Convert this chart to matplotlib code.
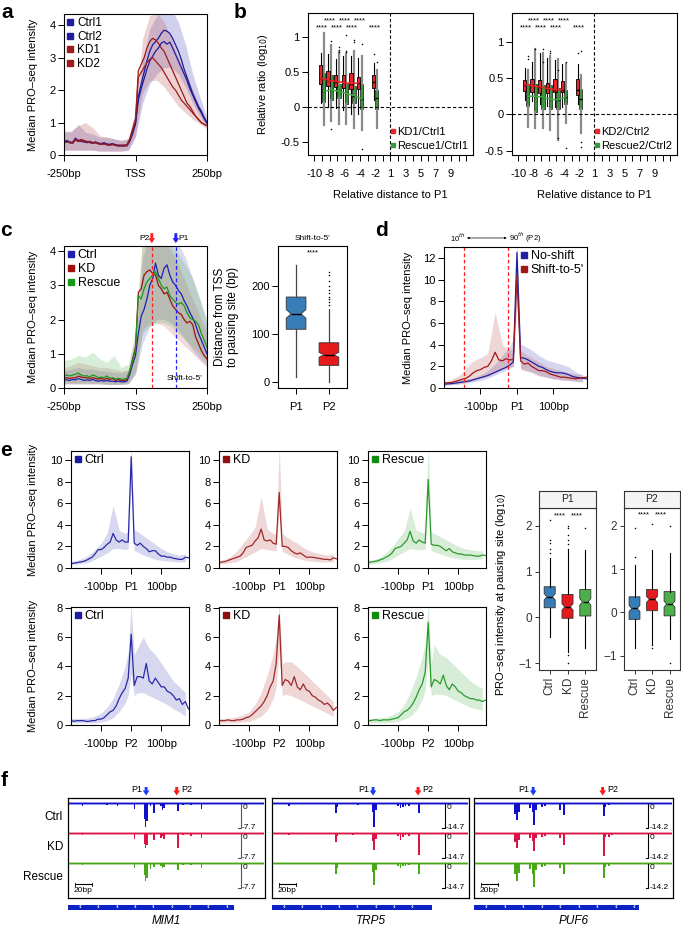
import numpy as np
import matplotlib
matplotlib.use('Agg')
import matplotlib.pyplot as plt
from matplotlib.lines import Line2D

plt.rcParams['font.family'] = ['Liberation Sans', 'DejaVu Sans']
plt.rcParams['axes.linewidth'] = 0.8

# ---------------- data ----------------
# a / c : median PRO-seq around TSS, 10bp bins; bands on a coarser grid
XA = np.arange(-250, 251, 10)
XAB = [-250, -225, -200, -175, -150, -125, -100, -75, -50, -25, 0, 25, 50, 75, 100, 125, 150, 175, 200, 225, 250]

a_ctrl1 = [0.42, 0.45, 0.40, 0.38, 0.52, 0.44, 0.45, 0.42, 0.40, 0.42, 0.38, 0.40, 0.37, 0.35, 0.38, 0.34, 0.33, 0.35, 0.32, 0.30,
	0.30, 0.30, 0.30, 0.45, 0.70, 1.00, 1.80, 2.20, 2.55, 2.90, 3.20, 3.40, 3.50, 3.60, 3.75, 3.85, 3.82, 3.75, 3.60, 3.40,
	3.20, 2.95, 2.65, 2.40, 2.15, 1.90, 1.70, 1.50, 1.35, 1.15, 1.00]
a_ctrl2 = [0.40, 0.42, 0.38, 0.36, 0.48, 0.42, 0.42, 0.40, 0.38, 0.40, 0.36, 0.38, 0.35, 0.33, 0.35, 0.32, 0.31, 0.33, 0.30, 0.28,
	0.28, 0.28, 0.28, 0.42, 0.65, 0.95, 1.70, 2.05, 2.35, 2.65, 2.90, 3.05, 3.20, 3.30, 3.45, 3.50, 3.42, 3.48, 3.30, 3.10,
	2.90, 2.70, 2.50, 2.30, 2.05, 1.85, 1.65, 1.45, 1.30, 1.12, 0.98]
a_kd1 = [0.40, 0.42, 0.40, 0.38, 0.50, 0.45, 0.48, 0.45, 0.42, 0.40, 0.38, 0.40, 0.36, 0.35, 0.36, 0.33, 0.32, 0.34, 0.30, 0.30,
	0.30, 0.30, 0.32, 0.50, 0.80, 1.10, 2.60, 2.80, 3.00, 3.30, 3.50, 3.60, 3.55, 3.45, 3.30, 3.20, 3.00, 2.80, 2.60, 2.40,
	2.20, 2.00, 1.80, 1.60, 1.50, 1.35, 1.20, 1.10, 1.00, 0.95, 0.90]
a_kd2 = [0.38, 0.40, 0.38, 0.36, 0.46, 0.42, 0.44, 0.42, 0.40, 0.38, 0.36, 0.38, 0.34, 0.33, 0.34, 0.31, 0.30, 0.32, 0.29, 0.28,
	0.28, 0.28, 0.30, 0.48, 0.75, 1.05, 2.40, 2.55, 2.70, 2.85, 2.95, 3.00, 2.90, 2.80, 2.70, 2.55, 2.40, 2.25, 2.10, 2.00,
	1.85, 1.70, 1.60, 1.50, 1.40, 1.30, 1.20, 1.10, 1.00, 0.95, 0.90]
a_ctrl_lo = [0.15, 0.15, 0.15, 0.15, 0.15, 0.12, 0.12, 0.12, 0.12, 0.15, 0.55, 1.60, 2.20, 2.50, 2.70, 2.70, 2.50, 2.10, 1.60, 1.20, 0.85]
a_ctrl_hi = [0.75, 0.70, 0.95, 0.70, 0.65, 0.55, 0.55, 0.50, 0.45, 0.50, 1.30, 2.90, 3.90, 4.30, 4.50, 4.50, 4.10, 3.40, 2.50, 1.80, 1.15]
a_kd_lo = [0.15, 0.15, 0.15, 0.15, 0.15, 0.12, 0.12, 0.12, 0.12, 0.15, 0.60, 1.90, 2.30, 2.30, 2.10, 1.80, 1.50, 1.30, 1.10, 0.95, 0.80]
a_kd_hi = [0.70, 0.75, 0.90, 1.00, 0.85, 0.60, 0.55, 0.50, 0.45, 0.50, 1.40, 3.60, 4.30, 4.40, 4.10, 3.60, 3.00, 2.50, 2.00, 1.50, 1.10]

c_ctrl = [0.22, 0.24, 0.22, 0.25, 0.24, 0.28, 0.25, 0.22, 0.24, 0.22, 0.25, 0.22, 0.20, 0.22, 0.20, 0.22, 0.20, 0.20, 0.18, 0.20,
	0.18, 0.18, 0.20, 0.40, 0.70, 0.95, 1.60, 2.10, 2.30, 2.60, 3.00, 3.20, 3.65, 3.30, 3.20, 3.50, 3.60, 3.30, 3.10, 3.00,
	2.85, 2.75, 2.55, 2.40, 2.20, 2.05, 1.85, 1.60, 1.40, 1.20, 1.00]
c_kd = [0.28, 0.30, 0.28, 0.30, 0.30, 0.35, 0.32, 0.30, 0.30, 0.28, 0.30, 0.28, 0.26, 0.28, 0.25, 0.28, 0.25, 0.28, 0.22, 0.25,
	0.22, 0.22, 0.25, 0.50, 0.85, 1.20, 2.80, 2.90, 3.30, 3.40, 3.45, 3.35, 3.30, 3.00, 2.90, 2.75, 2.80, 2.60, 2.40, 2.30,
	2.20, 2.15, 2.00, 1.90, 1.95, 1.85, 1.50, 1.30, 1.10, 0.95, 0.85]
c_res = [0.35, 0.38, 0.35, 0.38, 0.40, 0.44, 0.38, 0.35, 0.36, 0.32, 0.38, 0.35, 0.30, 0.32, 0.30, 0.35, 0.28, 0.30, 0.26, 0.28,
	0.26, 0.26, 0.28, 0.50, 0.80, 1.15, 2.70, 2.60, 2.90, 3.10, 3.20, 3.30, 3.40, 3.20, 3.00, 2.90, 2.95, 2.70, 2.60, 2.50,
	2.45, 2.50, 2.40, 2.20, 2.05, 2.00, 1.95, 1.85, 1.60, 1.40, 1.20]
c_ctrl_lo = [0.12, 0.12, 0.12, 0.12, 0.12, 0.12, 0.10, 0.10, 0.10, 0.12, 0.40, 1.30, 1.80, 2.00, 2.00, 1.90, 1.70, 1.40, 1.10, 0.85, 0.65]
c_ctrl_hi = [0.50, 0.55, 0.60, 0.55, 0.55, 0.50, 0.50, 0.45, 0.45, 0.50, 1.30, 3.80, 4.50, 4.60, 4.60, 4.50, 4.20, 3.80, 3.20, 2.60, 1.90]
c_kd_lo = [0.12, 0.12, 0.12, 0.12, 0.12, 0.12, 0.10, 0.10, 0.10, 0.12, 0.45, 1.70, 1.90, 1.90, 1.80, 1.60, 1.40, 1.20, 1.00, 0.80, 0.60]
c_kd_hi = [0.60, 0.65, 0.75, 0.70, 0.65, 0.60, 0.60, 0.55, 0.50, 0.55, 1.60, 4.40, 4.60, 4.50, 4.30, 4.00, 3.60, 3.10, 2.60, 2.10, 1.60]
c_res_lo = [0.15, 0.15, 0.15, 0.15, 0.15, 0.15, 0.12, 0.12, 0.12, 0.15, 0.45, 1.60, 1.80, 1.90, 1.90, 1.80, 1.60, 1.40, 1.20, 1.00, 0.75]
c_res_hi = [0.80, 0.85, 0.95, 0.90, 1.05, 0.85, 0.75, 0.95, 0.60, 0.70, 1.60, 4.40, 4.60, 4.60, 4.40, 4.20, 3.90, 3.60, 3.20, 2.60, 2.00]
c_p2, c_p1 = 57, 141

# c right: distance TSS -> pausing site (q1, med, q3, whislo, whishi), notch ci
c_box = [(110, 142, 177, 10, 243), (35, 57, 82, 0, 152)]
c_box_ci = [(133, 151), (52, 62)]
c_box_fl = [[], [160, 166, 172, 178, 185, 192, 200, 210, 222, 230]]

# b: relative ratio boxes, (q1, med, q3, whislo, whishi)
B_POS = [1, 2, 3, 4, 5, 6, 8]
B_TICKS = ['-10', '-9', '-8', '-7', '-6', '-5', '-4', '-3', '-2', '-1', '1', '2', '3', '4', '5', '6', '7', '8', '9', '10', '11']
b1_kd = [(.32, .41, .60, .05, .77), (.30, .38, .51, .00, .75), (.28, .36, .45, -.02, .68), (.27, .35, .45, -.05, .72),
	(.26, .33, .48, -.10, .72), (.26, .34, .42, -.10, .70), (.27, .35, .45, .10, .63)]
b1_res = [(.07, .22, .48, -.26, 1.05), (.10, .24, .45, -.20, .88), (.12, .22, .33, -.25, .78), (.04, .19, .33, -.25, .75),
	(.05, .16, .30, -.30, .80), (-.03, .11, .32, -.33, .72), (-.03, .13, .24, -.30, .52)]
b1_kd_fl = [[], [], [], [], [], [], [.76]]
b1_res_fl = [[], [.94, -.32], [.78, .81, .85], [1.02, .78, .80], [.92, .95], [.90, -.61], [.64]]
b2_kd = [(.33, .41, .48, .20, .64), (.31, .40, .49, .18, .73), (.30, .38, .47, .15, .85), (.29, .36, .44, .12, .78),
	(.31, .34, .49, .10, .75), (.31, .34, .46, .10, .70), (.27, .34, .49, .15, .70)]
b2_res = [(.11, .25, .42, -.17, .62), (.04, .25, .42, -.19, .90), (.08, .24, .41, -.19, .85), (.07, .21, .41, -.22, .80),
	(.08, .20, .36, -.35, .76), (.15, .24, .34, -.12, .70), (.07, .21, .35, -.26, .55)]
b2_kd_fl = [[], [], [], [], [], [], [.85]]
b2_res_fl = [[.80, .76], [.90], [.90, .72], [.85, .88], [.62, -.33], [.72, -.47], [.87, -.38, -.45]]
b_stars_lo = [1, 3, 5, 8]
b_stars_hi = [2, 4, 6]

# d / e : profiles around pausing site, 10bp bins
XD = np.arange(-200, 191, 10)
XDB = [-200, -180, -160, -140, -120, -100, -80, -60, -40, -20, -10, 0, 10, 20, 40, 60, 80, 100, 120, 140, 160, 180]

d_noshift = [0.35, 0.38, 0.40, 0.45, 0.50, 0.55, 0.60, 0.65, 0.75, 0.85, 0.95, 1.05, 1.15, 1.30, 1.45, 1.60, 1.75, 1.90, 2.10, 2.40,
	12.5, 2.80, 2.75, 2.60, 2.40, 2.20, 2.00, 1.90, 1.70, 1.55, 1.45, 1.40, 1.40, 1.35, 1.25, 1.10, 1.00, 0.95, 0.90, 0.85]
d_shift = [0.45, 0.48, 0.50, 0.60, 0.70, 0.80, 0.90, 1.10, 1.40, 1.60, 1.70, 1.90, 2.00, 2.50, 3.30, 2.60, 2.50, 2.70, 2.60, 2.60,
	10.4, 2.50, 2.20, 2.30, 2.00, 1.80, 1.60, 1.60, 1.50, 1.30, 1.20, 1.10, 1.00, 1.00, 0.95, 0.90, 0.85, 0.90, 0.95, 1.00]
d_ns_lo = [0.25, 0.30, 0.35, 0.45, 0.55, 0.70, 0.90, 1.20, 1.50, 1.80, 2.00, 9.0, 1.80, 1.70, 1.50, 1.20, 1.00, 0.85, 0.75, 0.70, 0.60, 0.55]
d_ns_hi = [0.50, 0.60, 0.70, 0.80, 0.95, 1.20, 1.60, 2.20, 3.00, 3.80, 4.50, 13.5, 4.00, 3.90, 3.50, 3.00, 2.60, 2.40, 2.20, 2.00, 1.50, 1.20]
d_sh_lo = [0.30, 0.35, 0.40, 0.50, 0.70, 0.90, 1.10, 1.40, 1.80, 1.90, 2.00, 8.0, 1.70, 1.60, 1.40, 1.10, 1.00, 0.85, 0.75, 0.70, 0.65, 0.60]
d_sh_hi = [0.60, 0.80, 1.10, 1.80, 2.50, 2.80, 3.20, 7.00, 4.00, 3.50, 3.60, 12.5, 3.50, 3.20, 2.80, 2.40, 2.00, 1.80, 1.60, 1.40, 1.30, 1.20]
d_p10, d_p90 = -145, -25

e1_ctrl = [0.40, 0.45, 0.50, 0.55, 0.60, 0.70, 0.85, 1.00, 1.30, 1.70, 1.70, 1.90, 2.20, 2.40, 3.20, 2.60, 2.40, 2.60, 2.40, 2.40,
	10.3, 2.30, 2.10, 2.30, 2.00, 1.80, 1.50, 1.60, 1.60, 1.30, 1.10, 1.10, 1.00, 1.00, 0.90, 0.85, 0.80, 0.80, 1.00, 0.95]
e1_kd = [0.50, 0.55, 0.60, 0.70, 0.80, 0.90, 1.00, 1.10, 1.40, 1.90, 2.00, 2.10, 2.50, 2.80, 3.60, 2.60, 2.50, 2.60, 2.30, 2.20,
	7.00, 2.00, 2.00, 1.90, 1.60, 1.40, 1.30, 1.40, 1.20, 1.00, 1.00, 1.00, 0.95, 0.90, 0.85, 0.80, 0.80, 0.75, 0.95, 0.85]
e1_res = [0.50, 0.55, 0.60, 0.65, 0.75, 0.85, 1.00, 1.15, 1.40, 1.80, 1.90, 2.00, 2.30, 2.60, 3.40, 2.50, 2.30, 2.60, 2.40, 2.30,
	8.20, 2.20, 2.10, 2.10, 2.00, 1.80, 1.60, 1.80, 1.50, 1.40, 1.30, 1.30, 1.20, 1.20, 1.20, 1.15, 1.10, 1.10, 1.20, 1.15]
e1_ctrl_lo = [0.30, 0.35, 0.45, 0.55, 0.80, 1.10, 1.40, 1.80, 1.80, 1.70, 1.80, 8.0, 1.60, 1.50, 1.20, 1.00, 0.80, 0.70, 0.65, 0.60, 0.55, 0.60]
e1_ctrl_hi = [0.60, 0.70, 0.90, 1.20, 1.70, 2.30, 3.20, 5.80, 3.50, 3.20, 3.40, 11.5, 3.50, 3.40, 3.00, 2.60, 2.20, 1.80, 1.50, 1.30, 1.20, 1.30]
e1_kd_lo = [0.35, 0.40, 0.50, 0.60, 0.90, 1.20, 1.50, 1.80, 1.70, 1.60, 1.60, 5.5, 1.50, 1.40, 1.10, 0.90, 0.75, 0.65, 0.60, 0.55, 0.55, 0.55]
e1_kd_hi = [0.70, 0.80, 1.10, 1.60, 2.30, 3.00, 3.80, 6.60, 3.60, 3.20, 3.20, 11.5, 3.20, 3.00, 2.60, 2.30, 1.90, 1.60, 1.40, 1.30, 1.20, 1.30]
e1_res_lo = [0.35, 0.40, 0.50, 0.60, 0.85, 1.20, 1.50, 1.80, 1.70, 1.70, 1.70, 6.5, 1.60, 1.50, 1.30, 1.10, 0.95, 0.85, 0.80, 0.80, 0.80, 0.85]
e1_res_hi = [0.70, 0.80, 1.00, 1.40, 2.00, 2.70, 3.40, 5.50, 3.50, 3.30, 3.30, 11.5, 3.30, 3.20, 2.90, 2.60, 2.30, 2.00, 1.80, 1.70, 1.60, 1.60]

e2_ctrl = [0.30, 0.25, 0.30, 0.30, 0.30, 0.25, 0.25, 0.30, 0.30, 0.40, 0.40, 0.50, 0.70, 0.90, 1.00, 1.30, 1.80, 2.20, 2.50, 3.20,
	6.20, 2.70, 3.30, 3.30, 3.20, 4.20, 3.00, 2.80, 3.20, 2.90, 2.60, 2.60, 2.30, 2.20, 2.00, 1.70, 1.80, 1.40, 1.60, 1.10]
e2_kd = [0.30, 0.30, 0.30, 0.35, 0.30, 0.30, 0.35, 0.35, 0.40, 0.50, 0.55, 0.70, 0.90, 1.10, 1.30, 1.60, 2.00, 2.60, 3.00, 4.20,
	7.50, 2.70, 3.10, 3.00, 2.70, 3.30, 2.60, 2.40, 2.80, 2.40, 2.30, 2.00, 1.90, 1.70, 1.60, 1.40, 1.50, 1.30, 1.00, 1.20]
e2_res = [0.30, 0.30, 0.35, 0.35, 0.30, 0.35, 0.35, 0.35, 0.40, 0.45, 0.50, 0.70, 0.90, 1.00, 1.20, 1.50, 1.90, 2.40, 2.80, 3.60,
	7.00, 2.60, 3.10, 3.00, 2.80, 3.40, 2.70, 2.40, 2.80, 2.60, 2.30, 2.20, 2.00, 1.90, 1.80, 1.80, 1.70, 1.70, 1.60, 1.70]
e2_ctrl_lo = [0.15, 0.15, 0.15, 0.15, 0.15, 0.20, 0.30, 0.50, 0.90, 1.50, 2.00, 3.5, 2.00, 2.20, 2.20, 2.00, 1.80, 1.60, 1.40, 1.10, 0.90, 0.60]
e2_ctrl_hi = [0.45, 0.45, 0.45, 0.50, 0.60, 0.80, 1.20, 1.80, 2.80, 4.00, 5.00, 8.2, 4.80, 5.20, 6.00, 5.20, 4.80, 4.20, 3.60, 3.00, 2.60, 2.20]
e2_kd_lo = [0.15, 0.15, 0.15, 0.15, 0.20, 0.25, 0.40, 0.60, 1.00, 1.80, 2.60, 5.0, 2.00, 2.10, 2.00, 1.80, 1.60, 1.40, 1.20, 1.00, 0.80, 0.60]
e2_kd_hi = [0.45, 0.45, 0.50, 0.55, 0.70, 0.90, 1.40, 2.20, 3.40, 4.80, 6.00, 8.3, 4.20, 4.30, 4.30, 4.00, 3.60, 3.20, 2.80, 2.40, 2.00, 1.60]
e2_res_lo = [0.15, 0.15, 0.15, 0.15, 0.20, 0.25, 0.40, 0.60, 1.00, 1.70, 2.40, 4.5, 2.00, 2.10, 2.10, 2.00, 1.80, 1.60, 1.40, 1.20, 1.10, 1.00]
e2_res_hi = [0.45, 0.45, 0.50, 0.55, 0.70, 0.90, 1.40, 2.20, 3.30, 4.60, 5.60, 8.3, 4.20, 5.50, 4.80, 4.60, 4.20, 3.80, 3.40, 3.00, 2.70, 2.50]

# e right: log10 intensity at pausing site
E_GROUPS = ['Ctrl', 'KD', 'Rescue']
e_p1 = [(.21, .45, .67, -.42, 1.29), (-.02, .23, .50, -.75, 1.50), (.03, .34, .61, -.68, 1.47)]
e_p1_ci = [(.38, .52), (.16, .30), (.27, .41)]
e_p1_fl = [[1.40, 1.50, 1.62, 1.70, 2.13], [1.60, 1.70, 1.80, 1.95, 2.00, -0.82, -1.0], [1.96]]
e_p2 = [(-.16, .09, .36, -.83, 1.10), (.04, .30, .53, -.75, 1.44), (-.08, .19, .48, -.62, 1.36)]
e_p2_ci = [(.02, .16), (.23, .37), (.12, .26)]
e_p2_fl = [[1.28, 1.95], [2.04, -0.83], [2.00, -1.16]]

# f: browser tracks (bp position in window, signal depth)
F_GENES = ['MIM1', 'TRP5', 'PUF6']
F_SCALE = [7.7, 14.7, 14.2]
F_P1 = [92, 119, 69]
F_P2 = [128, 172, 150]
F_GENE_LEN = [196, 189, 192]
F_CONDS = ['Ctrl', 'KD', 'Rescue']
f_pos = [
	[10, 16, 23, 34, 45, 57, 77, 89, 90, 92, 96, 100, 108, 110, 112, 128, 134, 144, 156, 163, 171, 175],
	[8, 19, 45, 74, 76, 88, 94, 100, 118, 119, 121, 147, 150, 153, 156, 160, 172, 175],
	[3, 20, 47, 49, 51, 64, 67, 69, 71, 78, 82, 99, 104, 113, 150, 152, 156, 160],
]
f_sig = [
	[[0.3, 0.8, 0.3, 0.1, 0.6, 0.8, 2.0, 5.0, 7.5, 5.5, 0.8, 3.0, 1.0, 2.2, 1.5, 2.5, 0.5, 0.6, 2.0, 0.3, 0.3, 0.3],
	 [0.1, 0.5, 0.4, 0.3, 0.3, 0.2, 1.7, 3.3, 4.5, 3.8, 0.5, 2.2, 1.5, 1.0, 1.7, 4.5, 0.6, 1.0, 1.5, 0.2, 0.3, 0.3],
	 [0.1, 0.6, 0.2, 0.1, 0.2, 0.3, 1.5, 3.6, 5.5, 4.5, 1.7, 1.3, 0.8, 1.5, 1.2, 2.3, 0.5, 0.5, 1.5, 0.2, 0.2, 0.3]],
	[[0.3, 2.0, 0.3, 6.0, 2.5, 0.8, 0.5, 1.0, 5.0, 14.2, 4.0, 2.0, 3.0, 2.5, 1.5, 2.0, 6.0, 0.5],
	 [0.3, 1.2, 0.3, 5.3, 2.0, 0.5, 1.0, 0.6, 4.5, 9.8, 3.5, 1.5, 4.0, 2.5, 1.0, 2.0, 13.0, 0.8],
	 [0.2, 0.8, 0.2, 6.3, 3.0, 0.4, 0.5, 0.5, 5.0, 13.0, 4.0, 2.0, 3.0, 2.0, 1.5, 1.0, 6.3, 0.5]],
	[[0.5, 0.3, 6.0, 9.5, 5.0, 3.0, 5.0, 12.3, 4.0, 2.0, 1.5, 3.8, 6.6, 0.8, 7.6, 2.0, 1.0, 0.8],
	 [0.5, 0.3, 5.0, 8.5, 4.0, 3.0, 4.5, 10.2, 3.0, 2.5, 1.5, 3.0, 6.6, 0.5, 13.0, 2.5, 2.0, 1.0],
	 [0.8, 0.3, 6.5, 10.0, 5.5, 3.5, 6.0, 13.5, 4.0, 2.0, 1.5, 3.0, 6.0, 0.5, 8.5, 2.5, 1.5, 0.8]],
]

# ---------------- helpers ----------------
W, H = 681, 927
fig = plt.figure(figsize=(W / 100, H / 100), dpi=100)

BLUE, DRED, GREEN = '#1c1c9c', '#9c1c1c', '#1f8f1f'
S1 = ['#377eb8', '#e41a1c', '#4daf4a']


def px_axes(l, t, r, b):
	return fig.add_axes([l / W, 1 - b / H, (r - l) / W, (b - t) / H])


def r_style(ax):
	ax.tick_params(direction='out', length=4, width=0.7, labelsize=8, colors='k')
	ax.tick_params(axis='x', pad=6)
	ax.tick_params(axis='y', pad=2)


def sq_legend(ax, labels, colors, loc='upper left', fs=8.5, **kw):
	handles = [Line2D([], [], marker='s', ls='', color=c, ms=5) for c in colors]
	return ax.legend(handles, labels, loc=loc, frameon=False, fontsize=fs, handlelength=0.6, handletextpad=0.25,
		labelspacing=0.15, borderaxespad=0.15, borderpad=0.1, **kw)


def profile(ax, x, y, xb, lo, hi, color, fill, alpha=0.3):
	ax.fill_between(xb, lo, hi, color=fill, alpha=alpha, lw=0)
	ax.plot(x, y, color=color, lw=0.9)


def boxes(ax, rows, pos, fliers, faces, edge='k', wcol='k', wlw=0.8, width=0.4, cis=None):
	stats = []
	for i, (q1, med, q3, lo, hi) in enumerate(rows):
		d = dict(q1=q1, med=med, q3=q3, whislo=lo, whishi=hi, fliers=fliers[i])
		if cis:
			d['cilo'], d['cihi'] = cis[i]
		stats.append(d)
	res = ax.bxp(stats, positions=pos, widths=width, shownotches=cis is not None, patch_artist=True, showcaps=False,
		boxprops=dict(edgecolor=edge, lw=0.6), medianprops=dict(color='k', lw=1.0),
		whiskerprops=dict(color=wcol, lw=wlw), flierprops=dict(marker='.', ms=2.2, mfc='k', mec='none'),
		manage_ticks=False)
	for p, fc in zip(res['boxes'], faces):
		p.set_facecolor(fc)
	return res


def panel_label(x, y, s):
	fig.text(x / W, 1 - y / H, s, fontsize=15, fontweight='bold', ha='center', va='center')


YLAB = 'Median PRO\u2013seq intensity'

# ---------------- a ----------------
ax = px_axes(64, 14, 207, 155)
profile(ax, XA, a_ctrl1, XAB, a_ctrl_lo, a_ctrl_hi, BLUE, '#5a5ac0', 0.28)
profile(ax, XA, a_kd1, XAB, a_kd_lo, a_kd_hi, DRED, '#c06060', 0.28)
ax.plot(XA, a_ctrl2, color=BLUE, lw=0.9)
ax.plot(XA, a_kd2, color=DRED, lw=0.9)
ax.set_xlim(-250, 250)
ax.set_ylim(0, 4.35)
ax.set_xticks([-250, 0, 250], ['-250bp', 'TSS', '250bp'])
ax.set_yticks([0, 1, 2, 3, 4])
r_style(ax)
ax.set_ylabel(YLAB, fontsize=8)
ax.yaxis.set_label_coords(-0.18, 0.5)
sq_legend(ax, ['Ctrl1', 'Ctrl2', 'KD1', 'KD2'], [BLUE, BLUE, DRED, DRED])
panel_label(7, 12, 'a')

# ---------------- b ----------------
for k, (l, r, kd, res, kfl, rfl, yl, lab) in enumerate([
		(308, 473, b1_kd, b1_res, b1_kd_fl, b1_res_fl, (-0.69, 1.34), ('KD1/Ctrl1', 'Rescue1/Ctrl1')),
		(512, 677, b2_kd, b2_res, b2_kd_fl, b2_res_fl, (-0.56, 1.40), ('KD2/Ctrl2', 'Rescue2/Ctrl2'))]):
	ax = px_axes(l, 13, r, 155)
	pos = np.array(B_POS)
	boxes(ax, res, pos + 0.22, rfl, ['#3c963c'] * 7, edge='#333333', wcol='#8a8a8a', wlw=1.6, width=0.44)
	boxes(ax, kd, pos - 0.2, kfl, ['#e8262a'] * 7, edge='k', wcol='k', wlw=0.8, width=0.44)
	ax.plot(pos[:6] - 0.2, [m[1] for m in kd[:6]], color='#f02020', lw=1.1, zorder=5)
	ax.plot(pos[:6] + 0.22, [m[1] for m in res[:6]], color='#45b045', lw=1.1, zorder=5)
	ax.axhline(0, color='k', ls=(0, (3, 2)), lw=0.8)
	ax.axvline(10, color='k', ls=(0, (3, 2)), lw=0.8)
	for p in b_stars_lo:
		ax.text(p, yl[1] - 0.21, '****', fontsize=5.5, ha='center', va='center')
	for p in b_stars_hi:
		ax.text(p, yl[1] - 0.11, '****', fontsize=5.5, ha='center', va='center')
	ax.set_xlim(-0.85, 20.9)
	ax.set_ylim(*yl)
	ax.set_xticks(range(len(B_TICKS)))
	ax.set_xticklabels([t if i % 2 == 0 and i < 19 else '' for i, t in enumerate(B_TICKS)])
	ax.set_yticks([-0.5, 0, 0.5, 1])
	ax.set_yticklabels(['-0.5', '0', '0.5', '1'])
	r_style(ax)
	ax.set_xlabel('Relative distance to P1', fontsize=8)
	ax.xaxis.set_label_coords(0.5, -0.25)
	if k == 0:
		ax.set_ylabel('Relative ratio (log$_{10}$)', fontsize=8)
		ax.yaxis.set_label_coords(-0.23, 0.5)
	handles = [Line2D([], [], marker='s', ls='', color=c, ms=3.5) for c in ['#e8262a', '#3c963c']]
	ax.legend(handles, lab, loc='lower right', frameon=False, fontsize=8, handlelength=0.5, handletextpad=0.2,
		labelspacing=0.3, borderaxespad=0.3, borderpad=0.1)
panel_label(240, 12, 'b')

# ---------------- c ----------------
ax = px_axes(64, 246, 207, 388)
profile(ax, XA, c_ctrl, XAB, c_ctrl_lo, c_ctrl_hi, '#2020b0', '#5a5ac0', 0.22)
profile(ax, XA, c_kd, XAB, c_kd_lo, c_kd_hi, '#a01010', '#c06060', 0.22)
profile(ax, XA, c_res, XAB, c_res_lo, c_res_hi, '#1a9a1a', '#50b050', 0.22)
ax.axvline(c_p2, color='#ff2020', ls=(0, (3, 2)), lw=0.9)
ax.axvline(c_p1, color='#2020ff', ls=(0, (3, 2)), lw=0.9)
for p, s, c, side in [(c_p2, 'P2', '#ff2020', -1), (c_p1, 'P1', '#2020ff', 1)]:
	ax.annotate('', xy=(p, 1.02), xytext=(p, 1.09), xycoords=('data', 'axes fraction'), annotation_clip=False,
		arrowprops=dict(arrowstyle='simple,head_width=0.8,head_length=0.6,tail_width=0.35', color=c, lw=0,
			shrinkA=0, shrinkB=0, mutation_scale=6))
	ax.text(p + side * 9, 1.055, s, transform=ax.get_xaxis_transform(), fontsize=6,
		ha='left' if side > 0 else 'right', va='center')
ax.text(0.97, 0.04, "Shift-to-5'", transform=ax.transAxes, fontsize=6, ha='right', va='bottom')
ax.set_xlim(-250, 250)
ax.set_ylim(0, 4.15)
ax.set_xticks([-250, 0, 250], ['-250bp', 'TSS', '250bp'])
ax.set_yticks([0, 1, 2, 3, 4])
r_style(ax)
ax.set_ylabel(YLAB, fontsize=8)
ax.yaxis.set_label_coords(-0.18, 0.5)
sq_legend(ax, ['Ctrl', 'KD', 'Rescue'], ['#2020b0', '#a01010', '#1a9a1a'], fs=9)
panel_label(6, 230, 'c')

ax = px_axes(278, 246, 347, 388)
boxes(ax, c_box, [1, 2], c_box_fl, S1[:2], edge='#333333', wcol='#444444', wlw=0.9, width=0.6, cis=c_box_ci)
ax.text(1.5, 269, '****', fontsize=5.5, ha='center', va='center')
ax.set_xlim(0.45, 2.55)
ax.set_ylim(-12, 283)
ax.set_xticks([1, 2], ['P1', 'P2'])
ax.set_yticks([0, 100, 200])
r_style(ax)
ax.set_title("Shift-to-5'", fontsize=6, pad=4)
ax.set_ylabel('Distance from TSS\nto pausing site (bp)', fontsize=8.5, linespacing=1.1)
ax.yaxis.set_label_coords(-0.56, 0.5)

# ---------------- d ----------------
ax = px_axes(444, 247, 587, 388)
profile(ax, XD, d_noshift, XDB, d_ns_lo, d_ns_hi, '#2020a0', '#5a5ac0', 0.25)
profile(ax, XD, d_shift, XDB, d_sh_lo, d_sh_hi, '#a01818', '#c06060', 0.25)
for p in (d_p10, d_p90):
	ax.axvline(p, color='#ff2020', ls=(0, (3, 2)), lw=0.9)
ax.annotate('', xy=(d_p90 - 3, 1.064), xytext=(d_p10 + 8, 1.064), xycoords=('data', 'axes fraction'),
	annotation_clip=False, arrowprops=dict(arrowstyle='<|-|>', color='k', lw=0.5, mutation_scale=3, shrinkA=0, shrinkB=0))
ax.text(d_p10 + 5, 1.068, '10$^{th}$', transform=ax.get_xaxis_transform(), fontsize=5.5, ha='right', va='center')
ax.text(d_p90 + 2, 1.068, '90$^{th}$ (P2)', transform=ax.get_xaxis_transform(), fontsize=5.5, ha='left', va='center')
ax.set_xlim(-200, 192)
ax.set_ylim(0, 13)
ax.set_xticks([-100, 0, 100], ['-100bp', 'P1', '100bp'])
ax.set_yticks(range(0, 13, 2))
r_style(ax)
ax.set_ylabel(YLAB, fontsize=8)
ax.yaxis.set_label_coords(-0.22, 0.5)
sq_legend(ax, ['No-shift', "Shift-to-5'"], ['#2020a0', '#a01818'], loc='upper right', fs=9)
panel_label(381, 230, 'd')

# ---------------- e ----------------
e_rows = [
	([e1_ctrl, e1_kd, e1_res], [(e1_ctrl_lo, e1_ctrl_hi), (e1_kd_lo, e1_kd_hi), (e1_res_lo, e1_res_hi)], 'P1', 451, 568, 10.83, [0, 2, 4, 6, 8, 10]),
	([e2_ctrl, e2_kd, e2_res], [(e2_ctrl_lo, e2_ctrl_hi), (e2_kd_lo, e2_kd_hi), (e2_res_lo, e2_res_hi)], 'P2', 607, 725, 8.05, [0, 2, 4, 6, 8]),
]
e_cols = [(71, 189), (219, 337), (368, 486)]
e_line = ['#2a2aa8', '#a02828', '#2a9a2a']
e_fill = ['#7070c8', '#c87070', '#70c070']
e_key = ['#1c1c9c', '#8c1010', '#108c10']
for lines, bands, site, t, b, ytop, yt in e_rows:
	for j, (l, r) in enumerate(e_cols):
		ax = px_axes(l, t, r, b)
		profile(ax, XD, lines[j], XDB, bands[j][0], bands[j][1], e_line[j], e_fill[j], 0.28)
		ax.set_xlim(-200, 192)
		ax.set_ylim(0, ytop)
		ax.set_xticks([-100, 0, 100], ['-100bp', site, '100bp'])
		ax.set_yticks(yt)
		r_style(ax)
		if j == 0:
			ax.set_ylabel(YLAB, fontsize=8)
			ax.yaxis.set_label_coords(-0.28, 0.5)
		sq_legend(ax, [E_GROUPS[j]], [e_key[j]], fs=9)
panel_label(6, 450, 'e')

for (l, r), rows, cis, fl, site, yl in [((539, 596), e_p1, e_p1_ci, e_p1_fl, 'P1', (-1.15, 2.39)),
		((624, 680), e_p2, e_p2_ci, e_p2_fl, 'P2', (-1.33, 2.41))]:
	ax = px_axes(l, 508, r, 670)
	boxes(ax, rows, [1, 2, 3], fl, S1, edge='#333333', wcol='k', wlw=0.8, width=0.62, cis=cis)
	ax.text(1.55, yl[1] - 0.17, '****', fontsize=5.5, ha='center', va='center')
	ax.text(2.5, yl[1] - 0.17, '****', fontsize=5.5, ha='center', va='center')
	ax.set_xlim(0.4, 3.6)
	ax.set_ylim(*yl)
	ax.set_yticks([-1, 0, 1, 2])
	ax.set_xticks([1, 2, 3])
	ax.set_xticklabels(E_GROUPS, rotation=90)
	ax.tick_params(direction='out', length=3, width=0.7, labelsize=8.5, colors='#333333', labelcolor='#333333', pad=2)
	for s in ax.spines.values():
		s.set_color('#333333')
	sax = px_axes(l, 491, r, 508)
	sax.set_facecolor('#f4f4f4')
	sax.set_xticks([])
	sax.set_yticks([])
	for s in sax.spines.values():
		s.set_color('#333333')
	sax.text(0.5, 0.5, site, fontsize=7.5, ha='center', va='center', color='#222222')
	if site == 'P1':
		ax.set_ylabel('PRO\u2013seq intensity at pausing site (log$_{10}$)', fontsize=8)
		ax.yaxis.set_label_coords(-0.54, 0.47)

# ---------------- f ----------------
f_box = [(68, 265), (272, 469), (474, 673)]
f_col = ['#1010cc', '#dc1446', '#48a818']
for g, (l, r) in enumerate(f_box):
	smax = F_SCALE[g]
	frame = px_axes(l, 798, r, 898)
	frame.set_xlim(0, 232)
	frame.set_ylim(100, 0)
	frame.set_xticks([])
	frame.set_yticks([])
	for s in frame.spines.values():
		s.set_linewidth(0.9)
	for p, s, c, side in [(F_P1[g], 'P1', '#1a3cff', -1), (F_P2[g], 'P2', '#ff1a1a', 1)]:
		frame.annotate('', xy=(p, -2.5), xytext=(p, -11), annotation_clip=False,
			arrowprops=dict(arrowstyle='simple,head_width=0.8,head_length=0.6,tail_width=0.35', color=c, lw=0,
				shrinkA=0, shrinkB=0, mutation_scale=6))
		frame.text(p + side * 5, -8, s, fontsize=6.5, ha='left' if side > 0 else 'right', va='center')
	# 20bp scale bar
	frame.plot([8, 28], [86, 86], color='k', lw=0.8)
	frame.plot([8, 8], [84.5, 87.5], color='k', lw=0.6)
	frame.plot([28, 28], [84.5, 87.5], color='k', lw=0.6)
	frame.text(7, 93, '20bp', fontsize=6, ha='left', va='center')
	for i in range(3):
		y0 = 803 + 30 * i
		tax = px_axes(l + 1, y0 - 2, r - 1, y0 + 28)
		tax.patch.set_alpha(0)
		tax.axis('off')
		tax.set_xlim(0, 232 * (r - l - 2) / (r - l))
		tax.set_ylim(-smax * 1.12, smax * 0.08)
		tax.axhline(0, color=f_col[i], lw=2.2, alpha=0.35)
		tax.axhline(0, color=f_col[i], lw=0.9)
		tax.bar(f_pos[g], [-h for h in f_sig[g][i]], width=2.0, color=f_col[i], lw=0)
		bc = '#555555' if g == 0 else 'k'
		tax.plot([199, 202, 202], [-smax, -smax, -smax * 0.02], color=bc, lw=0.8)
		tax.text(204, -smax * 0.19, '0', fontsize=6, ha='left', va='center')
		tax.text(203, -smax * 0.99, '-%g' % smax, fontsize=6, ha='left', va='center')
		if g == 0:
			fig.text(63 / W, 1 - (y0 + 14) / H, F_CONDS[i], fontsize=8.5, ha='right', va='center')
	gax = px_axes(l, 903, r, 912)
	gax.set_xlim(0, 232)
	gax.set_ylim(-0.5, 0.5)
	gax.axis('off')
	L = F_GENE_LEN[g]
	gax.barh(0, L, left=0, height=0.62, color='#0b22c4', lw=0)
	for cx in np.arange(14, L - 5, 21.6):
		gax.text(cx, 0, '\u2039', color='w', fontsize=6, ha='center', va='center', fontweight='bold')
	fig.text((l + r) / 2 / W, 1 - 921 / H, F_GENES[g], fontsize=8.5, style='italic', ha='center', va='center')
panel_label(4, 781, 'f')

fig.savefig('out.png', dpi=100)
